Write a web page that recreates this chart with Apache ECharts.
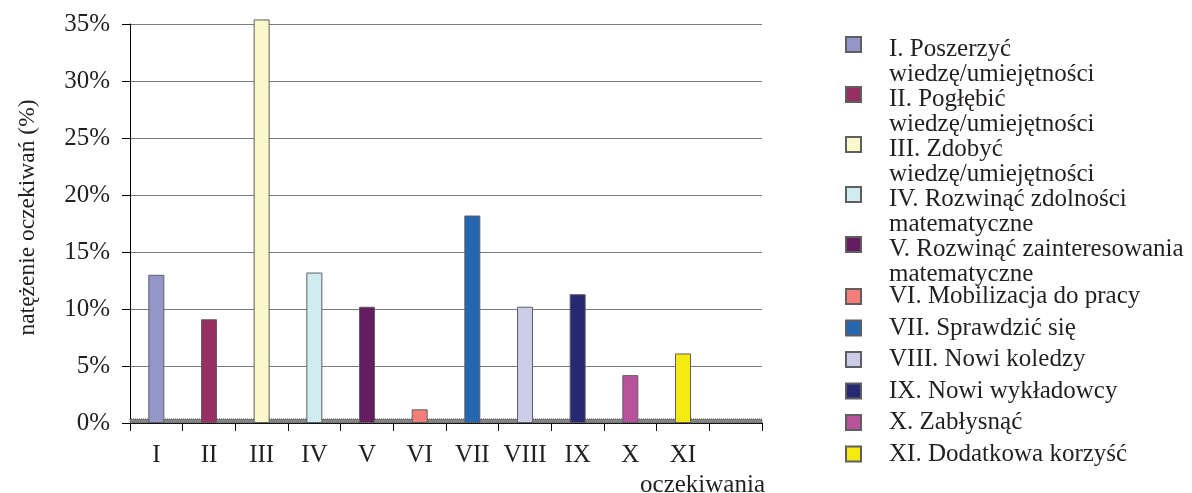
<!DOCTYPE html>
<html>
<head>
<meta charset="utf-8">
<script src="https://cdn.jsdelivr.net/npm/echarts@6/dist/echarts.min.js"></script>
<style>
  html, body { margin: 0; padding: 0; background: #ffffff; }
  #chart { width: 1192px; height: 493px; }
</style>
</head>
<body>
<div id="chart"></div>
<script>
// Categories on the x axis (the last slot is an empty one)
const categories = ['I', 'II', 'III', 'IV', 'V', 'VI', 'VII', 'VIII', 'IX', 'X', 'XI', ''];

// Legend text, one array of lines per expectation
const legendLines = [
  ['I. Poszerzyć', 'wiedzę/umiejętności'],
  ['II. Pogłębić', 'wiedzę/umiejętności'],
  ['III. Zdobyć', 'wiedzę/umiejętności'],
  ['IV. Rozwinąć zdolności', 'matematyczne'],
  ['V. Rozwinąć zainteresowania', 'matematyczne'],
  ['VI. Mobilizacja do pracy'],
  ['VII. Sprawdzić się'],
  ['VIII. Nowi koledzy'],
  ['IX. Nowi wykładowcy'],
  ['X. Zabłysnąć'],
  ['XI. Dodatkowa korzyść']
];

// Intensity of each expectation, percent
const values = [13.0, 9.1, 35.4, 13.2, 10.2, 1.2, 18.2, 10.2, 11.3, 4.2, 6.1];

// Bar fill colours
const colors = ['#9495c8', '#972f63', '#fbf8cc', '#d0ecf1', '#651d61', '#f47f7a',
                '#2566b0', '#cccce8', '#272872', '#b9529c', '#f4e911'];

// Y axis ticks
const yMin = 0, yMax = 35, yStep = 5;

const FONT = "'Liberation Serif', 'DejaVu Serif', serif";
const TEXT = '#231f20';

const seriesNames = legendLines.map(l => l.join(' '));
const nameToText = {};
seriesNames.forEach((n, i) => { nameToText[n] = legendLines[i].join('\n'); });

// one series per expectation, stacked so each bar sits centred in its slot
const series = values.map((v, i) => ({
  name: seriesNames[i],
  type: 'bar',
  stack: 'all',
  barWidth: 16,
  clip: false,
  itemStyle: { color: colors[i], borderColor: '#5f5f5f', borderWidth: 1 },
  data: categories.map((c, k) => (k === i ? v : '-'))
}));

// grey 3D floor under the bars
series[0].markArea = {
  silent: true,
  itemStyle: { color: '#858585', borderColor: '#4a4a4a', borderWidth: 1, borderType: 'dotted' },
  data: [[{ yAxis: 0 }, { yAxis: 0.35 }]]
};

const twoLine = seriesNames.filter((n, i) => legendLines[i].length > 1);
const oneLine = seriesNames.filter((n, i) => legendLines[i].length === 1);

const legendText = {
  fontFamily: FONT, fontSize: 25, color: TEXT
};

const option = {
  animation: false,
  backgroundColor: '#ffffff',
  grid: { left: 130, right: 430, top: 24, bottom: 70, containLabel: false, outerBoundsMode: 'none' },
  legend: [
    {
      data: twoLine,
      orient: 'vertical',
      left: 845, top: 36,
      padding: 0,
      itemGap: -2,
      itemWidth: 38, itemHeight: 50,
      icon: 'path://M0,0h15v15h-15ZM38,50',
      selectedMode: false,
      formatter: n => nameToText[n],
      textStyle: Object.assign({ lineHeight: 25 }, legendText)
    },
    {
      data: oneLine,
      orient: 'vertical',
      left: 845, top: 284,
      padding: 0,
      itemGap: 6.5,
      itemWidth: 38, itemHeight: 15,
      icon: 'path://M0,0h15v15h-15ZM38,15',
      selectedMode: false,
      formatter: n => nameToText[n],
      textStyle: Object.assign({ lineHeight: 24 }, legendText)
    }
  ],
  xAxis: {
    type: 'category',
    data: categories,
    boundaryGap: true,
    name: 'oczekiwania',
    nameLocation: 'end',
    nameGap: 3,
    nameTextStyle: {
      fontFamily: FONT, fontSize: 25, color: TEXT,
      align: 'right', verticalAlign: 'top', padding: [50, 0, 0, 0]
    },
    axisLine: { show: true, lineStyle: { color: '#000000', width: 1 } },
    axisTick: { show: true, length: 8, lineStyle: { color: '#000000' } },
    axisLabel: { margin: 20, fontFamily: FONT, fontSize: 25, color: TEXT, interval: 0 },
    splitLine: { show: false }
  },
  yAxis: {
    type: 'value',
    min: yMin, max: yMax, interval: yStep,
    name: 'natężenie oczekiwań (%)',
    nameLocation: 'middle',
    nameRotate: 90,
    nameGap: 90,
    nameTextStyle: { fontFamily: FONT, fontSize: 23.5, color: TEXT, padding: [0, 0, 0, 12] },
    axisLine: { show: true, lineStyle: { color: '#000000', width: 1 } },
    axisTick: { show: true, length: 8, lineStyle: { color: '#000000' } },
    axisLabel: { margin: 20, fontFamily: FONT, fontSize: 25, color: TEXT, formatter: '{value}%' },
    splitLine: { show: true, lineStyle: { color: '#7a7a7a', width: 1 } }
  },
  series: series
};

const chart = echarts.init(document.getElementById('chart'), null, { renderer: 'canvas' });
chart.setOption(option);
</script>
</body>
</html>
